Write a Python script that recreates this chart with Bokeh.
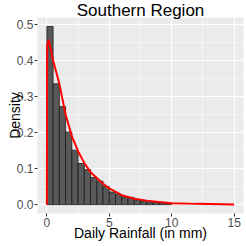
from bokeh.plotting import figure
from bokeh.models import FixedTicker, PrintfTickFormatter, Range1d
from bokeh.embed import file_html
from bokeh.resources import INLINE

# Histogram (bin width 0.5 mm), densities
bin_left = [0.0, 0.5, 1.0, 1.5, 2.0, 2.5, 3.0, 3.5, 4.0, 4.5,
            5.0, 5.5, 6.0, 6.5, 7.0, 7.5, 8.0, 8.5, 9.0, 9.5]
bin_density = [0.494, 0.335, 0.272, 0.201, 0.151, 0.114, 0.097, 0.075, 0.065, 0.050,
               0.035, 0.028, 0.021, 0.020, 0.013, 0.010, 0.006, 0.006, 0.004, 0.003]
bin_width = 0.5

# Fitted density curve
curve_x = [0.0, 0.02, 0.15, 0.5, 1.0, 1.5, 2.0, 2.5, 3.0, 3.5, 4.0, 4.5,
           5.0, 6.0, 7.0, 8.0, 9.0, 10.0, 12.0, 15.0]
curve_y = [0.0, 0.44, 0.457, 0.40, 0.335, 0.25, 0.19, 0.148, 0.115, 0.090, 0.074, 0.058,
           0.045, 0.026, 0.016, 0.011, 0.007, 0.004, 0.002, 0.0005]

x_major = [0, 5, 10, 15]
x_minor = [2.5, 7.5, 12.5]
y_major = [0.0, 0.1, 0.2, 0.3, 0.4, 0.5]
y_minor = [0.05, 0.15, 0.25, 0.35, 0.45]

FONT = "Liberation Sans"

p = figure(width=246, height=246, output_backend="svg", toolbar_location=None,
           title="Southern Region",
           x_range=Range1d(-0.75, 15.75), y_range=Range1d(-0.0247, 0.519),
           min_border_left=37, min_border_right=3, min_border_top=0, min_border_bottom=33)

p.background_fill_color = "#EBEBEB"
p.border_fill_color = "white"
p.outline_line_color = None

p.title.text_font = FONT
p.title.text_font_size = "17px"
p.title.text_font_style = "normal"
p.title.text_color = "black"
p.title.align = "center"
p.title.standoff = -4
p.title.offset = 0

centers = [l + bin_width / 2 for l in bin_left]
p.vbar(x=centers, width=bin_width, top=bin_density, bottom=0,
       fill_color="#595959", line_color="#1a1a1a", line_width=0.8)
p.line(curve_x, curve_y, line_color="red", line_width=2)

p.xaxis.ticker = FixedTicker(ticks=x_major, minor_ticks=x_minor)
p.yaxis.ticker = FixedTicker(ticks=y_major, minor_ticks=y_minor)
p.yaxis.formatter = PrintfTickFormatter(format="%.1f")

for g in (p.xgrid, p.ygrid):
    g.grid_line_color = "white"
    g.grid_line_width = 1.1
    g.minor_grid_line_color = "white"
    g.minor_grid_line_width = 0.5

p.xaxis.axis_label = "Daily Rainfall (in mm)"
p.yaxis.axis_label = "Density"
for ax in (p.xaxis, p.yaxis):
    ax.axis_line_color = None
    ax.major_tick_line_color = "#333333"
    ax.major_tick_out = 3
    ax.major_tick_in = 0
    ax.minor_tick_line_color = None
    ax.major_label_text_font = FONT
    ax.major_label_text_font_size = "12px"
    ax.major_label_text_color = "#4D4D4D"
    ax.major_label_standoff = 0
    ax.axis_label_text_font = FONT
    ax.axis_label_text_font_size = "14px"
    ax.axis_label_text_font_style = "normal"
    ax.axis_label_text_color = "black"
p.xaxis.axis_label_standoff = -5
p.yaxis.axis_label_standoff = -9

open("out.html", "w").write(file_html(p, INLINE))
